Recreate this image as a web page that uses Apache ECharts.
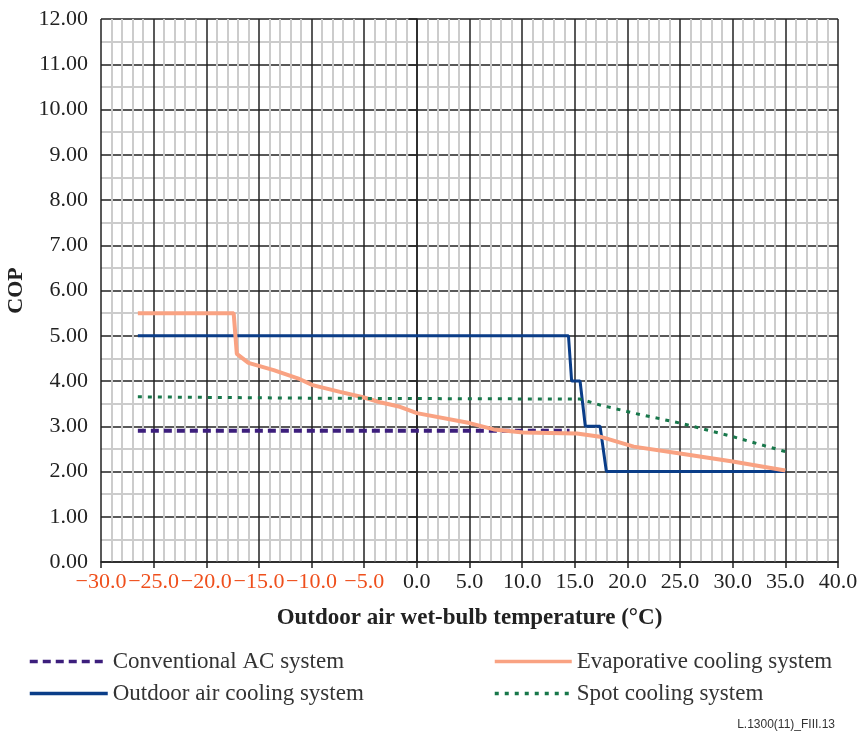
<!DOCTYPE html>
<html>
<head>
<meta charset="utf-8">
<script src="https://cdn.jsdelivr.net/npm/echarts@6/dist/echarts.min.js"></script>
<style>html,body{margin:0;padding:0;background:#fff;}#c{width:857px;height:742px;}</style>
</head>
<body>
<div id="c"></div>
<script>
const seriesNames = ['Conventional AC system', 'Outdoor air cooling system', 'Evaporative cooling system', 'Spot cooling system'];
const conventionalAC = [[-26.5, 2.9], [14.5, 2.9]];
const outdoorAir = [[-26.5, 5.0], [14.4, 5.0], [14.7, 4.0], [15.5, 4.0], [16.0, 3.0], [17.4, 3.0], [18.0, 2.0], [35.0, 2.0]];
const evaporative = [[-26.5, 5.5], [-17.4, 5.5], [-17.1, 4.6], [-16.0, 4.4], [-13.6, 4.24], [-11.1, 4.04], [-9.9, 3.91], [-7.3, 3.76], [-5.1, 3.64], [-3.5, 3.53], [-1.6, 3.43], [0.0, 3.29], [5.0, 3.07], [7.3, 2.93], [10.1, 2.86], [15.2, 2.84], [17.4, 2.77], [20.6, 2.55], [25.0, 2.40], [30.0, 2.22], [35.0, 2.02]];
const spotCooling = [[-26.5, 3.65], [-10.0, 3.62], [15.5, 3.6], [17.4, 3.47], [20.6, 3.29], [25.0, 3.07], [30.0, 2.77], [35.0, 2.44]];
const xTitle = 'Outdoor air wet-bulb temperature (°C)';
const yTitle = 'COP';
const footer = 'L.1300(11)_FIII.13';

const serif = '"Liberation Serif", "DejaVu Serif", serif';
const chart = echarts.init(document.getElementById('c'), null, {renderer: 'canvas'});

function lineSeries(name, data, color, width, type) {
  return {
    name: name, type: 'line', data: data, symbol: 'none', animation: false,
    lineStyle: {color: color, width: width, type: type},
    itemStyle: {color: color}
  };
}

const legendCommon = {
  orient: 'vertical', top: 650, padding: 0,
  itemHeight: 14, itemGap: 9,
  itemStyle: {opacity: 0, borderWidth: 0},
  lineStyle: {width: 3.5},
  textStyle: {fontFamily: serif, fontSize: 23, lineHeight: 23, color: '#333'}
};

chart.setOption({
  animation: false,
  backgroundColor: '#fff',
  grid: {left: 101, right: 19, top: 19, bottom: 180, containLabel: false, outerBoundsMode: 'none'},
  xAxis: {
    type: 'value', min: -30, max: 40, interval: 5,
    name: xTitle, nameLocation: 'middle', nameGap: 45,
    nameTextStyle: {fontFamily: serif, fontWeight: 'bold', fontSize: 23, color: '#222'},
    axisLine: {show: true, onZero: false, lineStyle: {color: '#222', width: 1.5}},
    axisTick: {show: true, length: 6, lineStyle: {color: '#222', width: 1.5}},
    axisLabel: {
      fontFamily: serif, fontSize: 22, margin: 9, hideOverlap: false,
      color: function (v) { return Number(v) < 0 ? '#ef4f1c' : '#222'; },
      formatter: function (v) { return (v < 0 ? '\u2212' + Math.abs(v).toFixed(1) : v.toFixed(1)); }
    },
    splitLine: {show: true, lineStyle: {color: '#222', width: 1.5}},
    minorTick: {show: false, splitNumber: 5},
    minorSplitLine: {show: true, lineStyle: {color: '#cccccc', width: 2}}
  },
  yAxis: {
    type: 'value', min: 0, max: 12, interval: 1,
    name: yTitle, nameLocation: 'middle', nameGap: 68,
    nameTextStyle: {fontFamily: serif, fontWeight: 'bold', fontSize: 22, color: '#222'},
    axisLine: {show: true, lineStyle: {color: '#222', width: 1.5}},
    axisTick: {show: true, length: 8, lineStyle: {color: '#222', width: 1.5}},
    axisLabel: {fontFamily: serif, fontSize: 22, color: '#222', margin: 13,
      formatter: function (v) { return v.toFixed(2); }},
    splitLine: {show: true, lineStyle: {color: '#222', width: 1.5}},
    minorTick: {show: false, splitNumber: 2},
    minorSplitLine: {show: true, lineStyle: {color: '#cccccc', width: 2}}
  },
  legend: [
    Object.assign({data: [seriesNames[0], seriesNames[1]], left: 28, itemWidth: 78}, legendCommon),
    Object.assign({data: [seriesNames[2], seriesNames[3]], left: 493, itemWidth: 77}, legendCommon)
  ],
  graphic: [{
    type: 'text', right: 22, top: 719,
    style: {text: footer, font: '12px "Liberation Sans", sans-serif', fill: '#333'}
  }],
  series: [
    lineSeries(seriesNames[0], conventionalAC, '#3c1e7c', 4, [8, 5]),
    lineSeries(seriesNames[1], outdoorAir, '#0a3d88', 3, 'solid'),
    lineSeries(seriesNames[2], evaporative, '#f9a282', 4, 'solid'),
    lineSeries(seriesNames[3], spotCooling, '#17774a', 3, [4, 6])
  ]
});
</script>
</body>
</html>
